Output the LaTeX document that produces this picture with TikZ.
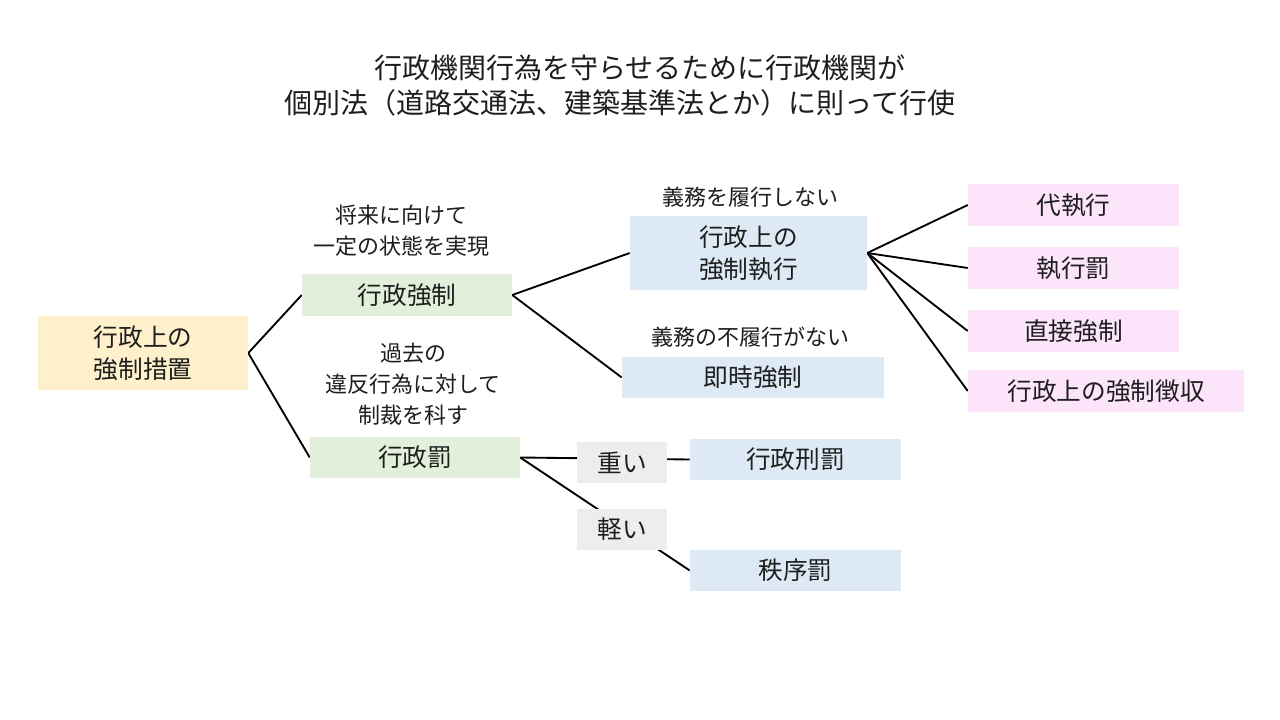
\documentclass[tikz,border=0pt]{standalone}
\usepackage{fontspec}
\setmainfont{Noto Sans CJK JP}
\usetikzlibrary{backgrounds}
\definecolor{cyellow}{HTML}{FDF0CB}
\definecolor{cgreen}{HTML}{E2EFDA}
\definecolor{cblue}{HTML}{DDEAF6}
\definecolor{cpink}{HTML}{FCE4FA}
\definecolor{cgray}{HTML}{EDEDED}
\definecolor{ink}{HTML}{1E1E1E}
\tikzset{
  box/.style={inner sep=0pt, align=center, text=ink, font=\fontsize{18.5}{24}\selectfont},
  yb/.style={box, fill=cyellow},
  gb/.style={box, fill=cgreen},
  bb/.style={box, fill=cblue},
  pb/.style={box, fill=cpink},
  grb/.style={box, fill=cgray},
  lbl/.style={align=center, text=ink, font=\fontsize{16.5}{23}\selectfont, inner sep=0pt},
  ttl/.style={text=ink, font=\fontsize{21}{26}\selectfont, inner sep=0pt},
  conn/.style={draw=black, line width=1.4pt},
}
\begin{document}
\begin{tikzpicture}[x=0.75pt, y=-0.75pt]
\useasboundingbox (0,0) rectangle (1280,720);
% title
\node[ttl] (t1) at (640,68) {行政機関行為を守らせるために行政機関が};
\node[ttl] (t2) at (620,103) {個別法（道路交通法、建築基準法とか）に則って行使};
% boxes
\node[yb, minimum width=157.5pt, minimum height=55.5pt] (root) at (143,353) {行政上の\\強制措置};
\node[gb, minimum width=157.5pt, minimum height=31.5pt] (kyosei) at (407,295) {行政強制};
\node[gb, minimum width=157.5pt, minimum height=30.75pt] (batsu) at (415,457.5) {行政罰};
\node[bb, minimum width=177.75pt, minimum height=55.5pt] (shikko) at (748.5,253) {行政上の\\強制執行};
\node[bb, minimum width=196.5pt, minimum height=30.75pt] (sokuji) at (753,377.5) {即時強制};
\node[pb, minimum width=158.25pt, minimum height=31.5pt] (dai) at (1073.5,205) {代執行};
\node[pb, minimum width=158.25pt, minimum height=31.5pt] (shikkobatsu) at (1073.5,268) {執行罰};
\node[pb, minimum width=158.25pt, minimum height=31.5pt] (chokusetsu) at (1073.5,331) {直接強制};
\node[pb, minimum width=207pt, minimum height=31.5pt] (choshu) at (1106,391) {行政上の強制徴収};
\node[grb, minimum width=67.5pt, minimum height=30.75pt] (omoi) at (622,462.5) {重い};
\node[grb, minimum width=67.5pt, minimum height=30.75pt] (karui) at (622,529.5) {軽い};
\node[bb, minimum width=158.25pt, minimum height=30.75pt] (keibatsu) at (795.5,459.5) {行政刑罰};
\node[bb, minimum width=158.25pt, minimum height=30.75pt] (chitsujo) at (795.5,570.5) {秩序罰};
% labels
\node[lbl] (l1) at (401,231) {将来に向けて\\一定の状態を実現};
\node[lbl] (l2) at (413,384) {過去の\\違反行為に対して\\制裁を科す};
\node[lbl] (l3) at (750,197) {義務を履行しない};
\node[lbl] (l4) at (750,337) {義務の不履行がない};
% connectors
\begin{pgfonlayer}{background}
\fill[white] (0,0) rectangle (1280,720);
\draw[conn] (root.east) -- (kyosei.west);
\draw[conn] (root.east) -- (batsu.west);
\draw[conn] (kyosei.east) -- (shikko.west);
\draw[conn] (kyosei.east) -- (sokuji.west);
\draw[conn] (shikko.east) -- (dai.west);
\draw[conn] (shikko.east) -- (shikkobatsu.west);
\draw[conn] (shikko.east) -- (chokusetsu.west);
\draw[conn] (shikko.east) -- (choshu.west);
\draw[conn] (batsu.east) -- (keibatsu.west);
\draw[conn] (batsu.east) -- (chitsujo.west);
\end{pgfonlayer}
\end{tikzpicture}
\end{document}
